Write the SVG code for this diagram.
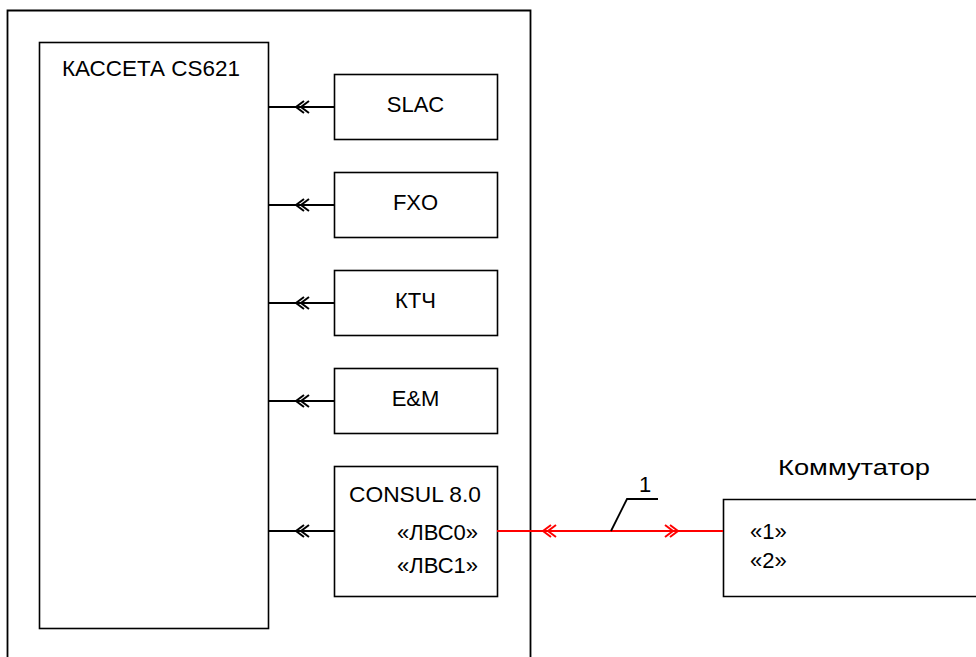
<svg xmlns="http://www.w3.org/2000/svg" xmlns:xlink="http://www.w3.org/1999/xlink" width="976" height="657" viewBox="0 0 976 657">
<style>
.box{fill:#fff;stroke:#000;stroke-width:1.6}
.ln{fill:none;stroke:#000;stroke-width:1.8}
.red{fill:none;stroke:#f00;stroke-width:2}
text{font-family:"Liberation Sans",Arial,sans-serif;font-size:22px;fill:#000}
</style>
<defs>
<path id="chevL" d="M8,-6 L0,0 L8,6 M13,-6 L5,0 L13,6" fill="none"/>
<path id="chevR" d="M-8,-6 L0,0 L-8,6 M-13,-6 L-5,0 L-13,6" fill="none"/>
</defs>
<rect width="976" height="657" fill="#fff"/>
<g id="outer">
<path class="ln" d="M7.5,660 V10.5 H530.5 V660"/>
</g>
<g id="cassette">
<rect class="box" x="39.5" y="42.5" width="229" height="586"/>
<text x="62" y="76" textLength="178" lengthAdjust="spacingAndGlyphs">КАССЕТА CS621</text>
</g>
<g id="slac">
<rect class="box" x="334.5" y="74.5" width="163" height="65"/>
<text x="415.5" y="112" text-anchor="middle">SLAC</text>
</g>
<g id="fxo">
<rect class="box" x="334.5" y="172.5" width="163" height="65"/>
<text x="415.5" y="210" text-anchor="middle">FXO</text>
</g>
<g id="ktch">
<rect class="box" x="334.5" y="270.5" width="163" height="65"/>
<text x="415.5" y="308" text-anchor="middle">КТЧ</text>
</g>
<g id="em">
<rect class="box" x="334.5" y="368.5" width="163" height="65"/>
<text x="415.5" y="406" text-anchor="middle">E&amp;M</text>
</g>
<g id="consul">
<rect class="box" x="334.5" y="466.5" width="163" height="130"/>
<text x="349" y="502" textLength="132" lengthAdjust="spacingAndGlyphs">CONSUL 8.0</text>
<text x="478" y="540" text-anchor="end">«ЛВС0»</text>
<text x="478" y="573" text-anchor="end">«ЛВС1»</text>
</g>
<g id="kommutator">
<path class="box" d="M980,499.5 H723.5 V596.5 H980"/>
<text x="778" y="475" font-size="25" textLength="152" lengthAdjust="spacingAndGlyphs">Коммутатор</text>
<text x="750" y="539" font-size="21">«1»</text>
<text x="750" y="568" font-size="21">«2»</text>
</g>
<g id="connectors">
<line class="ln" x1="268" y1="107" x2="334" y2="107"/>
<line class="ln" x1="268" y1="205" x2="334" y2="205"/>
<line class="ln" x1="268" y1="303" x2="334" y2="303"/>
<line class="ln" x1="268" y1="401" x2="334" y2="401"/>
<line class="ln" x1="268" y1="531" x2="334" y2="531"/>
<use xlink:href="#chevL" x="296" y="107" stroke="#000" stroke-width="2"/>
<use xlink:href="#chevL" x="296" y="205" stroke="#000" stroke-width="2"/>
<use xlink:href="#chevL" x="296" y="303" stroke="#000" stroke-width="2"/>
<use xlink:href="#chevL" x="296" y="401" stroke="#000" stroke-width="2"/>
<use xlink:href="#chevL" x="296" y="531" stroke="#000" stroke-width="2"/>
<line class="red" x1="497" y1="531" x2="723" y2="531"/>
<use xlink:href="#chevL" x="543" y="531" stroke="#f00" stroke-width="2"/>
<use xlink:href="#chevR" x="678" y="531" stroke="#f00" stroke-width="2"/>
<path class="ln" d="M611,531 L627,499 H658" stroke-width="1.6"/>
<text x="645" y="492" text-anchor="middle" font-size="24">1</text>
</g>
</svg>
